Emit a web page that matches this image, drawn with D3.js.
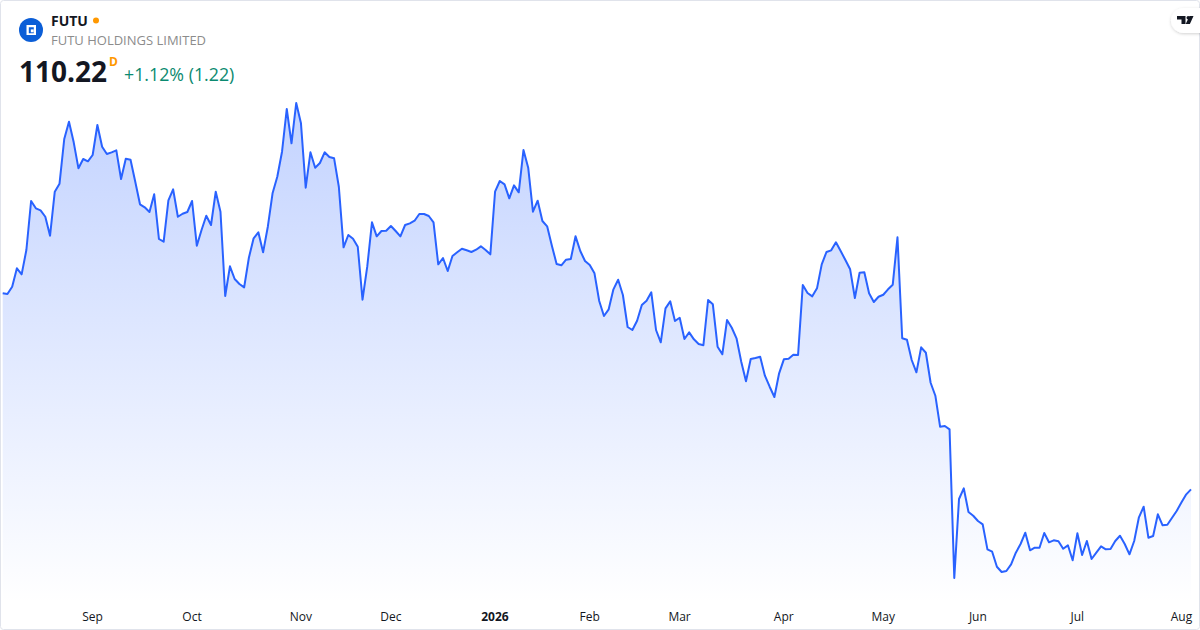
<!DOCTYPE html>
<html>
<head>
<meta charset="utf-8">
<style>
  html, body { margin: 0; padding: 0; background: #fff; }
  svg { display: block; font-family: "Open Sans", sans-serif; }
  .tick text { font-size: 12px; fill: #131722; }
</style>
<script src="https://cdn.jsdelivr.net/npm/d3@7"></script>
</head>
<body>
<div id="chart"></div>
<script>
// Daily closes, Aug 2025 to Aug 2026
const closes = [
  159.22,159.05,160.87,165.47,163.97,170.05,182.30,180.47,179.97,178.37,
  173.62,184.62,186.62,197.80,202.12,196.97,190.47,192.80,192.22,193.80,
  201.30,195.87,194.05,194.47,194.97,187.80,192.87,192.62,187.12,181.47,
  180.72,179.55,183.97,172.80,172.12,182.47,185.22,178.37,179.12,179.55,
  182.30,171.12,175.05,178.62,176.30,184.62,179.62,158.55,165.97,162.80,
  161.55,160.72,168.12,172.97,174.47,169.47,175.87,184.22,188.37,194.62,
  205.30,196.72,206.80,201.72,185.62,194.47,190.62,191.80,194.47,193.30,
  192.97,185.87,170.72,173.80,172.87,170.87,157.62,165.87,176.97,173.47,
  174.80,174.87,176.05,174.80,173.47,176.30,176.72,177.37,179.05,179.05,
  178.55,176.97,166.47,168.05,164.80,168.55,169.47,170.37,169.97,169.55,
  170.12,170.97,170.05,168.97,184.62,187.30,186.47,182.97,186.22,184.47,
  195.05,190.62,179.62,182.37,177.30,175.97,171.12,166.55,166.22,167.62,
  167.80,173.47,169.80,167.30,166.30,164.22,157.30,153.55,155.22,160.22,
  162.62,158.80,150.80,150.05,152.37,156.30,157.37,159.47,150.05,146.97,
  155.47,157.22,152.30,153.12,147.80,149.47,147.72,146.55,146.22,157.55,
  156.47,145.87,143.97,152.55,150.62,147.97,142.12,137.22,142.80,143.05,
  143.37,138.62,135.87,133.30,139.22,142.72,142.87,143.87,143.80,161.30,
  159.30,158.47,160.47,166.47,169.55,169.97,171.97,169.80,167.55,165.22,
  158.05,164.37,164.47,159.22,157.05,158.37,158.87,160.22,161.37,173.22,
  147.97,147.62,142.55,139.47,145.72,144.37,136.87,133.62,125.87,126.05,
  125.22,88.05,107.80,110.47,104.55,103.62,102.30,101.47,95.22,94.62,
  90.87,89.55,89.80,91.47,94.37,96.55,99.37,94.97,95.62,95.62,
  99.30,96.97,97.47,97.22,95.37,96.22,92.47,99.22,93.80,97.30,
  92.80,94.37,95.97,95.22,95.30,97.30,98.62,96.55,93.97,97.30,
  103.22,105.87,98.12,98.55,103.97,101.22,101.37,103.12,104.87,106.97,
  108.97,110.22
];

// Month labels and the trading day each one starts on
const monthLabels = ['Sep', 'Oct', 'Nov', 'Dec', '2026', 'Feb', 'Mar', 'Apr', 'May', 'Jun', 'Jul', 'Aug'];
const monthStarts = [19, 40, 63, 82, 104, 124, 143, 165, 186, 206, 227, 249];

const width = 1200;
const height = 630;

const svg = d3.select('#chart')
    .append('svg')
    .attr('width', width)
    .attr('height', height)
    .attr('viewBox', `0 0 ${width} ${height}`);

const xScale = d3.scaleLinear()
    .domain([0, closes.length - 1])
    .range([2.7, 1191]);

const yScale = d3.scaleLinear()
    .domain([80, 220])
    .range([610.2, 50.2]);

// Area gradient
const grad = svg.append('defs')
    .append('linearGradient')
    .attr('id', 'areaFill')
    .attr('gradientUnits', 'userSpaceOnUse')
    .attr('x1', 0).attr('x2', 0)
    .attr('y1', 103).attr('y2', 604);
grad.append('stop').attr('offset', 0).attr('stop-color', '#2962ff').attr('stop-opacity', 0.28);
grad.append('stop').attr('offset', 1).attr('stop-color', '#2962ff').attr('stop-opacity', 0);

const baseY = 604;

const area = d3.area()
    .x((d, i) => xScale(i))
    .y0(baseY)
    .y1(d => yScale(d));

const line = d3.line()
    .x((d, i) => xScale(i))
    .y(d => yScale(d));

svg.append('path')
    .datum(closes)
    .attr('fill', 'url(#areaFill)')
    .attr('d', area);

svg.append('path')
    .datum(closes)
    .attr('fill', 'none')
    .attr('stroke', '#2962ff')
    .attr('stroke-width', 2)
    .attr('stroke-linejoin', 'round')
    .attr('d', line);

// Month axis, labels only
const xAxis = d3.axisBottom(xScale)
    .tickValues(monthStarts)
    .tickFormat((d, i) => monthLabels[i])
    .tickSize(0)
    .tickPadding(0);

const axisG = svg.append('g')
    .attr('transform', 'translate(-0.6,612)')
    .call(xAxis);
axisG.select('.domain').remove();
axisG.selectAll('text')
    .attr('dy', '0.72em')
    .style('font-family', '"Open Sans", sans-serif')
    .style('font-size', '12px')
    .style('font-weight', d => d === 104 ? 700 : 400);

// Card border
svg.append('rect')
    .attr('x', 0.5).attr('y', 0.5)
    .attr('width', width - 1).attr('height', height - 1)
    .attr('rx', 3)
    .attr('fill', 'none')
    .attr('stroke', '#e0e3eb');

// Header
const header = svg.append('g');
header.append('circle').attr('cx', 31).attr('cy', 30).attr('r', 12).attr('fill', '#0b5ed7');
header.append('path')
    .attr('fill', '#fff')
    .attr('fill-rule', 'evenodd')
    .attr('d', 'M26.5 25h9.5v10h-9.5z M28.8 27.3v6h5v-6z');
header.append('rect').attr('x', 30.8).attr('y', 29.4).attr('width', 2.9).attr('height', 2.9).attr('fill', '#fff');

header.append('text').attr('x', 51).attr('y', 25.5)
    .style('font-size', '14px').style('font-weight', 700).attr('fill', '#131722').text('FUTU');
header.append('circle').attr('cx', 96).attr('cy', 20.5).attr('r', 3).attr('fill', '#ff9800');
header.append('text').attr('x', 51).attr('y', 45)
    .style('font-size', '13px').attr('fill', '#8c8c8c').text('FUTU HOLDINGS LIMITED');

header.append('text').attr('x', 19).attr('y', 82)
    .style('font-size', '28px').style('font-weight', 700).attr('fill', '#131722').text('110.22');
header.append('text').attr('x', 109).attr('y', 66)
    .style('font-size', '12px').style('font-weight', 700).attr('fill', '#ff9800').text('D');
header.append('text').attr('x', 124).attr('y', 81)
    .style('font-size', '17.8px').attr('fill', '#0b8a70').text('+1.12% (1.22)');

// TradingView badge
const badge = svg.append('g');
const shadow = svg.select('defs').append('filter').attr('id', 'badgeShadow')
    .attr('x', '-30%').attr('y', '-30%').attr('width', '160%').attr('height', '170%');
shadow.append('feDropShadow')
    .attr('dx', 0).attr('dy', 1).attr('stdDeviation', 1.5)
    .attr('flood-color', '#000').attr('flood-opacity', 0.18);
badge.append('rect')
    .attr('x', 1171).attr('y', 8).attr('width', 50).attr('height', 25).attr('rx', 12.5)
    .attr('fill', '#fff').attr('filter', 'url(#badgeShadow)');
badge.append('path').attr('fill', '#131722')
    .attr('d', 'M1177 16h8.5v8h-4v-4.6h-4.5z');
badge.append('circle').attr('cx', 1188.2).attr('cy', 17.7).attr('r', 1.7).attr('fill', '#131722');
badge.append('path').attr('fill', '#131722')
    .attr('d', 'M1189.5 16h4l-3.6 8h-4.2z');
</script>
</body>
</html>
